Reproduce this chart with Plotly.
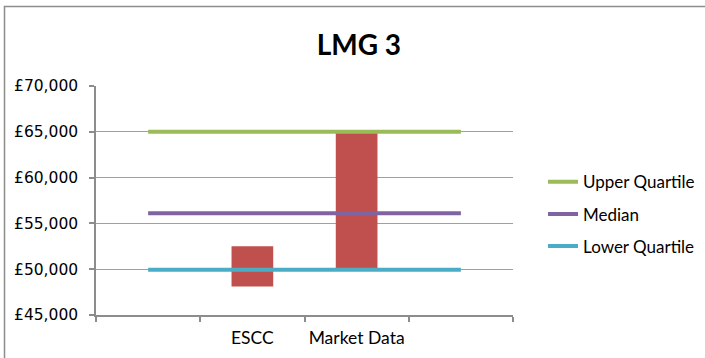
import plotly.graph_objects as go

categories = ["", "ESCC", "Market Data", ""]
x_pos = [0, 1, 2, 3]

bar_cats = [1, 2]
bar_low = [48100, 50000]
bar_high = [52500, 65000]

upper_quartile = [65000, 65000, 65000, 65000]
median = [56100, 56100, 56100, 56100]
lower_quartile = [49950, 49950, 49950, 49950]

y_ticks = [45000, 50000, 55000, 60000, 65000, 70000]
y_tick_labels = ["£45,000", "£50,000", "£55,000", "£60,000", "£65,000", "£70,000"]

fig = go.Figure()

fig.add_trace(go.Bar(
    x=bar_cats,
    y=[h - l for h, l in zip(bar_high, bar_low)],
    base=bar_low,
    width=0.4,
    marker=dict(color="#C0504D", line=dict(width=0)),
    showlegend=False,
    hoverinfo="skip",
))

series = [
    ("Upper Quartile", upper_quartile, "#9BBB59"),
    ("Median", median, "#8064A2"),
    ("Lower Quartile", lower_quartile, "#4BACC6"),
]
for name, vals, col in series:
    fig.add_trace(go.Scatter(
        x=x_pos, y=vals, mode="lines", name=name,
        line=dict(color=col, width=4),
        legendgroup=name,
    ))

fig.update_layout(
    width=705, height=358,
    margin=dict(l=96, r=192, t=86, b=43, autoexpand=False),
    paper_bgcolor="white", plot_bgcolor="white",
    title=dict(text="<b>LMG 3</b>", x=0.509, xanchor="center",
               y=0.874, yanchor="middle",
               font=dict(family="Lato, Open Sans, sans-serif", size=28, color="black")),
    font=dict(family="Lato, Open Sans, sans-serif", size=15, color="black"),
    showlegend=True,
    legend=dict(x=1.072, xanchor="left", y=0.44, yanchor="middle",
                font=dict(size=17), tracegroupgap=7,
                bgcolor="rgba(0,0,0,0)"),
    shapes=[dict(type="rect", xref="paper", yref="paper",
                 x0=-0.2194, x1=1.5, y0=-0.3, y1=1.3472,
                 line=dict(color="#8C8C8C", width=1.5), layer="below")],
)

fig.update_xaxes(
    range=[-0.5, 3.5], automargin=False,
    tickmode="array", tickvals=x_pos, ticktext=categories,
    ticks="", showgrid=False, zeroline=False,
    showline=True, linecolor="#8C8C8C", linewidth=1.5,
    ticklabelstandoff=6,
    minor=dict(tickmode="array", tickvals=[-0.5, 0.5, 1.5, 2.5, 3.5],
               ticks="outside", ticklen=5, tickcolor="#8C8C8C", tickwidth=1.5,
               showgrid=False),
    tickfont=dict(family="Lato, Open Sans, sans-serif", size=17.5),
)
fig.update_yaxes(
    range=[45000, 70000], automargin=False,
    tickmode="array", tickvals=y_ticks, ticktext=y_tick_labels,
    ticks="outside", ticklen=5, tickcolor="#8C8C8C", tickwidth=1.5,
    showgrid=True, gridcolor="#A0A0A0", gridwidth=1.3,
    zeroline=False,
    showline=True, linecolor="#8C8C8C", linewidth=1.5,
    ticklabelstandoff=8,
    tickfont=dict(family="DejaVu Sans", size=15.5),
)

fig.write_html("out.html")
